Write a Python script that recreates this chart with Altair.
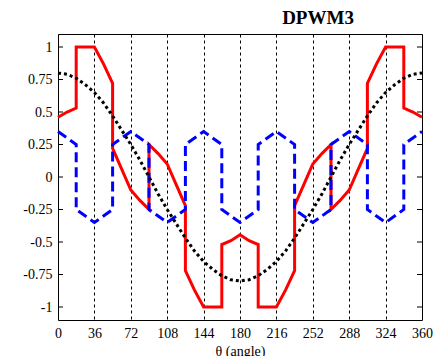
import altair as alt
import pandas as pd

# ---- data ----
red_theta = [0, 9, 18, 18, 27, 36, 45, 54, 54, 63, 72, 81, 90, 90, 99, 108, 117, 126, 126, 135, 144, 153, 162, 162, 171, 180,
             189, 198, 198, 207, 216, 225, 234, 234, 243, 252, 261, 270, 270, 279, 288, 297, 306, 306, 315, 324, 333, 342, 342, 351, 360]
red_val = [0.46, 0.50, 0.53, 1.0, 1.0, 1.0, 0.87, 0.72, 0.22, 0.06, -0.10, -0.18, -0.25, 0.25, 0.18, 0.10, -0.06, -0.22, -0.72, -0.87, -1.0, -1.0, -1.0, -0.52, -0.49, -0.445,
           -0.49, -0.52, -1.0, -1.0, -1.0, -0.87, -0.72, -0.22, -0.06, 0.10, 0.18, 0.25, -0.25, -0.18, -0.10, 0.06, 0.22, 0.72, 0.87, 1.0, 1.0, 1.0, 0.53, 0.50, 0.46]

blue_theta = [0, 18, 18, 36, 54, 54, 72, 90, 90, 108, 126, 126, 144, 162, 162, 180,
              198, 198, 216, 234, 234, 252, 270, 270, 288, 306, 306, 324, 342, 342, 360]
blue_val = [0.35, 0.25, -0.25, -0.35, -0.25, 0.25, 0.35, 0.25, -0.25, -0.35, -0.25, 0.25, 0.35, 0.25, -0.25, -0.35,
            -0.25, 0.25, 0.35, 0.25, -0.25, -0.35, -0.25, 0.25, 0.35, 0.25, -0.25, -0.35, -0.25, 0.25, 0.35]

black_theta = [0, 9, 18, 27, 36, 45, 54, 63, 72, 81, 90, 99, 108, 117, 126, 135, 144, 153, 162, 171, 180,
               189, 198, 207, 216, 225, 234, 243, 252, 261, 270, 279, 288, 297, 306, 315, 324, 333, 342, 351, 360]
black_val = [0.80, 0.79, 0.76, 0.71, 0.65, 0.57, 0.47, 0.36, 0.25, 0.13, 0.00, -0.13, -0.25, -0.36, -0.47, -0.57, -0.65, -0.71, -0.76, -0.79, -0.80,
             -0.79, -0.76, -0.71, -0.65, -0.57, -0.47, -0.36, -0.25, -0.13, 0.00, 0.13, 0.25, 0.36, 0.47, 0.57, 0.65, 0.71, 0.76, 0.79, 0.80]

x_ticks = [0, 36, 72, 108, 144, 180, 216, 252, 288, 324, 360]
y_ticks = [-1, -0.75, -0.5, -0.25, 0, 0.25, 0.5, 0.75, 1]

red_df = pd.DataFrame({"theta": red_theta, "v": red_val, "order": list(range(len(red_theta)))})
blue_df = pd.DataFrame({"theta": blue_theta, "v": blue_val, "order": list(range(len(blue_theta)))})
black_df = pd.DataFrame({"theta": black_theta, "v": black_val, "order": list(range(len(black_theta)))})
tick_df = pd.DataFrame({"v": y_ticks})

FONT = "Liberation Serif"

x_scale = alt.Scale(domain=[0, 360], nice=False, zero=False)
y_scale = alt.Scale(domain=[-1.1, 1.1], nice=False, zero=False)

x_axis = alt.Axis(values=x_ticks, title="θ (angle)", grid=True, gridDash=[3, 3], gridColor="black",
                  gridOpacity=1, gridWidth=1, ticks=False, domain=False, labelPadding=6,
                  labelFlush=False, labelOverlap=False, titlePadding=4)
y_axis = alt.Axis(values=y_ticks, title=None, grid=False, ticks=False, domain=False,
                  labelExpr="toString(datum.value)", labelPadding=6)


def xy():
    return dict(x=alt.X("theta:Q", scale=x_scale, axis=x_axis),
                y=alt.Y("v:Q", scale=y_scale, axis=y_axis))


red = alt.Chart(red_df).mark_line(color="#ff0000", strokeWidth=3).encode(order="order:Q", **xy())
blue = alt.Chart(blue_df).mark_line(color="#0000ff", strokeWidth=3, strokeDash=[10, 5]).encode(order="order:Q", **xy())
black = alt.Chart(black_df).mark_line(color="black", strokeWidth=3, strokeDash=[3, 3]).encode(order="order:Q", **xy())

ytick_left = alt.Chart(tick_df).mark_rule(color="black", strokeWidth=1).encode(
    y=alt.Y("v:Q", scale=y_scale, axis=y_axis), x=alt.value(0), x2=alt.value(5))
ytick_right = alt.Chart(tick_df).mark_rule(color="black", strokeWidth=1).encode(
    y=alt.Y("v:Q", scale=y_scale, axis=y_axis), x=alt.value(359), x2=alt.value(364))

chart = alt.layer(ytick_left, ytick_right, red, blue, black).properties(
    width=364, height=286,
    title=alt.TitleParams("DPWM3", font=FONT, fontSize=19, fontWeight="bold", anchor="middle",
                          dx=78, offset=6, color="black"),
    padding={"left": 58, "top": 34, "right": 18, "bottom": 36},
    autosize=alt.AutoSizeParams(type="none"),
).configure_view(stroke="black", strokeWidth=1).configure_axis(
    labelFont=FONT, labelFontSize=14, labelColor="black",
    titleFont=FONT, titleFontSize=14, titleColor="black", titleFontWeight="normal"
).configure_title(font=FONT)

chart.save("out.html", embed_options={"renderer": "svg", "actions": False})
